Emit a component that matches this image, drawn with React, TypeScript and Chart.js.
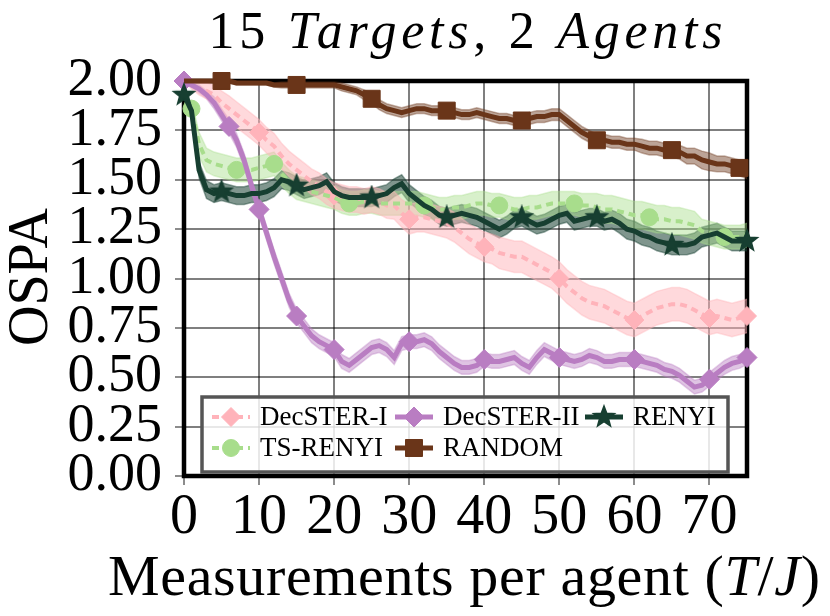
import React, { useEffect, useRef } from 'react';
import { Chart, registerables } from 'chart.js';

Chart.register(...registerables);

const FONT = '"Liberation Serif", "DejaVu Serif", serif';

// x positions (measurements per agent)
const STEPS = Array.from({ length: 76 }, (_, i) => i);
const X_TICKS = [0, 10, 20, 30, 40, 50, 60, 70];
const Y_TICK_STEP = 0.25;

const DEC1_MEAN = [
  2.00, 1.98, 1.96, 1.95, 1.93, 1.89, 1.86, 1.83, 1.80, 1.77,
  1.74, 1.70, 1.67, 1.62, 1.58, 1.55, 1.52, 1.49, 1.47, 1.44,
  1.42, 1.41, 1.40, 1.40, 1.39, 1.40, 1.39, 1.37, 1.37, 1.33,
  1.30, 1.31, 1.31, 1.30, 1.29, 1.28, 1.26, 1.23, 1.20, 1.18,
  1.16, 1.15, 1.13, 1.12, 1.11, 1.11, 1.09, 1.07, 1.05, 1.03,
  1.00, 0.96, 0.93, 0.90, 0.88, 0.87, 0.86, 0.84, 0.82, 0.80,
  0.79, 0.81, 0.83, 0.85, 0.86, 0.87, 0.87, 0.86, 0.84, 0.82,
  0.80, 0.81, 0.80, 0.79, 0.80, 0.81,
];
const DEC1_SPREAD = [
  0.00, 0.02, 0.03, 0.04, 0.05, 0.06, 0.065, 0.065, 0.065, 0.065,
  0.065, 0.065, 0.065, 0.065, 0.065, 0.065, 0.065, 0.065, 0.065, 0.065,
  0.065, 0.065, 0.065, 0.065, 0.065, 0.065, 0.065, 0.065, 0.07, 0.07,
  0.075, 0.075, 0.075, 0.075, 0.075, 0.075, 0.075, 0.075, 0.075, 0.075,
  0.075, 0.075, 0.08, 0.08, 0.08, 0.08, 0.08, 0.08, 0.08, 0.08,
  0.085, 0.085, 0.085, 0.085, 0.085, 0.085, 0.085, 0.085, 0.085, 0.085,
  0.085, 0.085, 0.085, 0.085, 0.085, 0.085, 0.085, 0.085, 0.085, 0.085,
  0.085, 0.085, 0.085, 0.085, 0.085, 0.085,
];
const DEC1_MARKERS = [0, 10, 20, 30, 40, 50, 60, 70, 75];

const DEC2_MEAN = [
  2.00, 1.98, 1.96, 1.93, 1.89, 1.83, 1.77, 1.70, 1.60, 1.47,
  1.35, 1.23, 1.11, 1.00, 0.89, 0.81, 0.76, 0.71, 0.68, 0.66,
  0.64, 0.58, 0.56, 0.59, 0.62, 0.65, 0.66, 0.64, 0.60, 0.67,
  0.68, 0.68, 0.69, 0.67, 0.63, 0.60, 0.57, 0.55, 0.55, 0.56,
  0.59, 0.58, 0.58, 0.59, 0.60, 0.57, 0.55, 0.60, 0.64, 0.62,
  0.60, 0.59, 0.58, 0.59, 0.61, 0.60, 0.58, 0.58, 0.59, 0.59,
  0.59, 0.58, 0.57, 0.56, 0.54, 0.53, 0.51, 0.48, 0.45, 0.46,
  0.49, 0.52, 0.55, 0.57, 0.58, 0.60,
];
const DEC2_SPREAD = [
  0.00, 0.01, 0.02, 0.02, 0.03, 0.03, 0.035, 0.035, 0.035, 0.035,
  0.035, 0.035, 0.035, 0.035, 0.035, 0.035, 0.035, 0.035, 0.035, 0.035,
  0.035, 0.035, 0.035, 0.035, 0.035, 0.035, 0.035, 0.035, 0.035, 0.035,
  0.035, 0.035, 0.035, 0.035, 0.035, 0.035, 0.035, 0.035, 0.035, 0.035,
  0.035, 0.035, 0.035, 0.035, 0.035, 0.035, 0.035, 0.035, 0.035, 0.035,
  0.035, 0.035, 0.035, 0.035, 0.035, 0.035, 0.035, 0.035, 0.035, 0.035,
  0.035, 0.035, 0.035, 0.035, 0.035, 0.035, 0.035, 0.035, 0.035, 0.035,
  0.035, 0.035, 0.035, 0.035, 0.035, 0.035,
];
const DEC2_MARKERS = [0, 6, 10, 15, 20, 30, 40, 50, 60, 70, 75];

const TS_MEAN = [
  1.87, 1.86, 1.68, 1.60, 1.58, 1.57, 1.56, 1.55, 1.55, 1.55,
  1.56, 1.57, 1.58, 1.53, 1.49, 1.46, 1.45, 1.44, 1.43, 1.42,
  1.41, 1.39, 1.38, 1.38, 1.39, 1.39, 1.38, 1.38, 1.38, 1.38,
  1.38, 1.38, 1.37, 1.36, 1.35, 1.35, 1.36, 1.36, 1.37, 1.38,
  1.38, 1.37, 1.37, 1.36, 1.35, 1.35, 1.36, 1.36, 1.37, 1.38,
  1.38, 1.38, 1.38, 1.37, 1.37, 1.36, 1.35, 1.35, 1.34, 1.33,
  1.32, 1.32, 1.31, 1.30, 1.30, 1.29, 1.29, 1.28, 1.27, 1.24,
  1.23, 1.22, 1.21, 1.21, 1.21, 1.22,
];
const TS_SPREAD = [
  0.02, 0.04, 0.06, 0.06, 0.06, 0.06, 0.06, 0.06, 0.06, 0.06,
  0.06, 0.06, 0.06, 0.06, 0.06, 0.06, 0.06, 0.06, 0.06, 0.06,
  0.06, 0.06, 0.06, 0.06, 0.06, 0.06, 0.06, 0.06, 0.06, 0.06,
  0.06, 0.06, 0.06, 0.06, 0.06, 0.06, 0.06, 0.06, 0.06, 0.06,
  0.06, 0.06, 0.06, 0.06, 0.06, 0.06, 0.06, 0.06, 0.06, 0.06,
  0.06, 0.06, 0.06, 0.06, 0.06, 0.07, 0.07, 0.07, 0.07, 0.07,
  0.07, 0.07, 0.07, 0.07, 0.07, 0.07, 0.07, 0.07, 0.07, 0.06,
  0.06, 0.06, 0.06, 0.06, 0.06, 0.06,
];
const TS_MARKERS = [1, 7, 12, 22, 32, 42, 52, 62, 72];

const RENYI_MEAN = [
  1.93, 1.85, 1.55, 1.45, 1.43, 1.44, 1.43, 1.42, 1.42, 1.43,
  1.43, 1.44, 1.46, 1.50, 1.49, 1.47, 1.45, 1.46, 1.47, 1.49,
  1.44, 1.42, 1.41, 1.41, 1.41, 1.41, 1.42, 1.43, 1.46, 1.48,
  1.43, 1.40, 1.37, 1.35, 1.32, 1.31, 1.32, 1.33, 1.32, 1.31,
  1.29, 1.27, 1.25, 1.27, 1.30, 1.31, 1.29, 1.27, 1.28, 1.30,
  1.32, 1.33, 1.29, 1.30, 1.31, 1.31, 1.29, 1.30, 1.28, 1.25,
  1.24, 1.22, 1.21, 1.19, 1.18, 1.17, 1.17, 1.17, 1.18, 1.21,
  1.22, 1.23, 1.21, 1.19, 1.19, 1.19,
];
const RENYI_SPREAD = [
  0.01, 0.03, 0.04, 0.045, 0.045, 0.045, 0.045, 0.045, 0.045, 0.045,
  0.045, 0.045, 0.045, 0.045, 0.045, 0.045, 0.045, 0.045, 0.045, 0.045,
  0.045, 0.045, 0.045, 0.045, 0.045, 0.045, 0.045, 0.045, 0.045, 0.045,
  0.045, 0.045, 0.045, 0.045, 0.045, 0.045, 0.045, 0.045, 0.045, 0.045,
  0.045, 0.045, 0.045, 0.045, 0.045, 0.045, 0.045, 0.045, 0.045, 0.045,
  0.045, 0.045, 0.045, 0.045, 0.045, 0.045, 0.045, 0.045, 0.05, 0.05,
  0.05, 0.05, 0.05, 0.05, 0.05, 0.05, 0.05, 0.05, 0.05, 0.05,
  0.05, 0.05, 0.05, 0.05, 0.05, 0.05,
];
const RENYI_MARKERS = [0, 5, 15, 25, 35, 45, 55, 65, 75];

const RANDOM_MEAN = [
  2.00, 2.00, 2.00, 2.00, 2.00, 2.00, 2.00, 1.99, 1.99, 1.99,
  1.99, 1.99, 1.98, 1.98, 1.98, 1.98, 1.98, 1.98, 1.98, 1.98,
  1.98, 1.97, 1.96, 1.95, 1.93, 1.91, 1.88, 1.86, 1.85, 1.84,
  1.85, 1.86, 1.86, 1.85, 1.85, 1.85, 1.84, 1.83, 1.83, 1.84,
  1.83, 1.82, 1.81, 1.81, 1.80, 1.80, 1.81, 1.82, 1.82, 1.83,
  1.83, 1.80, 1.77, 1.74, 1.72, 1.70, 1.70, 1.69, 1.69, 1.68,
  1.68, 1.67, 1.66, 1.66, 1.65, 1.65, 1.64, 1.62, 1.62, 1.60,
  1.59, 1.58, 1.58, 1.57, 1.56, 1.55,
];
const RANDOM_SPREAD = [
  0.00, 0.01, 0.01, 0.01, 0.01, 0.01, 0.01, 0.01, 0.01, 0.01,
  0.01, 0.01, 0.01, 0.015, 0.015, 0.015, 0.015, 0.015, 0.015, 0.015,
  0.015, 0.02, 0.02, 0.02, 0.025, 0.025, 0.025, 0.025, 0.025, 0.025,
  0.025, 0.025, 0.025, 0.025, 0.025, 0.025, 0.025, 0.025, 0.025, 0.025,
  0.025, 0.025, 0.025, 0.025, 0.025, 0.03, 0.03, 0.03, 0.03, 0.03,
  0.03, 0.03, 0.03, 0.03, 0.03, 0.03, 0.03, 0.03, 0.03, 0.03,
  0.03, 0.035, 0.035, 0.035, 0.035, 0.035, 0.035, 0.04, 0.04, 0.045,
  0.045, 0.04, 0.04, 0.04, 0.04, 0.045,
];
const RANDOM_MARKERS = [5, 15, 25, 35, 45, 55, 65, 74];

type Series = {
  label: string;
  mean: number[];
  spread: number[];
  markers: number[];
  rgb: [number, number, number];
  bandAlpha: number;
  dash: number[];
  style: string;
  radius: number;
  width: number;
  order: number;
};

// plotting order (matplotlib order)
const SERIES: Series[] = [
  { label: 'DecSTER-I', mean: DEC1_MEAN, spread: DEC1_SPREAD, markers: DEC1_MARKERS, rgb: [255, 179, 186], bandAlpha: 0.5, dash: [7, 5], style: 'rectRot', radius: 9.5, width: 4, order: 5 },
  { label: 'TS-RENYI', mean: TS_MEAN, spread: TS_SPREAD, markers: TS_MARKERS, rgb: [168, 221, 140], bandAlpha: 0.45, dash: [7, 5], style: 'circle', radius: 8.5, width: 4, order: 4 },
  { label: 'DecSTER-II', mean: DEC2_MEAN, spread: DEC2_SPREAD, markers: DEC2_MARKERS, rgb: [185, 125, 194], bandAlpha: 0.45, dash: [], style: 'rectRot', radius: 10, width: 5, order: 3 },
  { label: 'RANDOM', mean: RANDOM_MEAN, spread: RANDOM_SPREAD, markers: RANDOM_MARKERS, rgb: [106, 53, 25], bandAlpha: 0.45, dash: [], style: 'rect', radius: 12, width: 5, order: 2 },
  { label: 'RENYI', mean: RENYI_MEAN, spread: RENYI_SPREAD, markers: RENYI_MARKERS, rgb: [23, 63, 49], bandAlpha: 0.55, dash: [], style: 'star', radius: 11, width: 5, order: 1 },
];

// legend layout: [label, column, row]
const LEGEND_ITEMS: [string, number, number][] = [
  ['DecSTER-I', 0, 0],
  ['DecSTER-II', 1, 0],
  ['RENYI', 2, 0],
  ['TS-RENYI', 0, 1],
  ['RANDOM', 1, 1],
];

const rgba = (c: number[], a: number) => `rgba(${c[0]},${c[1]},${c[2]},${a})`;

function makeStar(rgb: number[], r: number): HTMLCanvasElement {
  const s = Math.ceil(r * 2 + 4);
  const c = document.createElement('canvas');
  c.width = s;
  c.height = s;
  const g = c.getContext('2d')!;
  g.translate(s / 2, s / 2);
  g.beginPath();
  for (let i = 0; i < 10; i++) {
    const rad = i % 2 === 0 ? r : r * 0.42;
    const a = -Math.PI / 2 + (i * Math.PI) / 5;
    g.lineTo(rad * Math.cos(a), rad * Math.sin(a));
  }
  g.closePath();
  g.fillStyle = rgba(rgb, 1);
  g.fill();
  g.lineWidth = 1.5;
  g.strokeStyle = rgba(rgb, 1);
  g.stroke();
  return c;
}

function drawLegendMarker(ctx: CanvasRenderingContext2D, style: any, r: number, x: number, y: number) {
  if (typeof style !== 'string') {
    ctx.drawImage(style, x - style.width / 2, y - style.height / 2);
    return;
  }
  ctx.beginPath();
  if (style === 'circle') {
    ctx.arc(x, y, r, 0, Math.PI * 2);
  } else if (style === 'rectRot') {
    ctx.moveTo(x - r, y);
    ctx.lineTo(x, y - r);
    ctx.lineTo(x + r, y);
    ctx.lineTo(x, y + r);
    ctx.closePath();
  } else {
    const h = r * Math.SQRT1_2;
    ctx.rect(x - h, y - h, 2 * h, 2 * h);
  }
  ctx.fill();
  ctx.stroke();
}

function drawMixed(
  ctx: CanvasRenderingContext2D,
  segs: { t: string; it: boolean }[],
  cx: number,
  baseline: number,
  size: number,
  targetW: number,
) {
  const fontOf = (it: boolean) => `${it ? 'italic ' : ''}${size}px ${FONT}`;
  const anyCtx = ctx as any;
  anyCtx.letterSpacing = '0px';
  let natural = 0;
  let nChars = 0;
  for (const s of segs) {
    ctx.font = fontOf(s.it);
    natural += ctx.measureText(s.t).width;
    nChars += s.t.length;
  }
  const gap = Math.max(0, (targetW - natural) / Math.max(1, nChars - 1));
  let x = cx - (natural + gap * (nChars - 1)) / 2;
  ctx.textAlign = 'left';
  ctx.textBaseline = 'alphabetic';
  ctx.fillStyle = '#000';
  for (const s of segs) {
    ctx.font = fontOf(s.it);
    anyCtx.letterSpacing = `${gap}px`;
    ctx.fillText(s.t, x, baseline);
    anyCtx.letterSpacing = '0px';
    x += ctx.measureText(s.t).width + gap * s.t.length;
  }
  anyCtx.letterSpacing = '0px';
}

export default function App() {
  const ref = useRef<HTMLCanvasElement>(null);

  useEffect(() => {
    const canvas = ref.current;
    if (!canvas) return;
    const styles: Record<string, any> = {};
    SERIES.forEach((s) => {
      styles[s.label] = s.style === 'star' ? makeStar(s.rgb, s.radius) : s.style;
    });

    const datasets: any[] = [];
    SERIES.forEach((s, k) => {
      const upper = STEPS.map((x, i) => ({ x, y: s.mean[i] + s.spread[i] }));
      const lower = STEPS.map((x, i) => ({ x, y: s.mean[i] - s.spread[i] }));
      const bandCommon = {
        pointRadius: 0,
        borderWidth: 1.5,
        borderColor: rgba(s.rgb, s.bandAlpha * 0.8),
        backgroundColor: rgba(s.rgb, s.bandAlpha),
        order: 20 + k,
      };
      datasets.push({ label: s.label + ' upper', data: upper, fill: false, ...bandCommon });
      datasets.push({ label: s.label + ' lower', data: lower, fill: '-1', ...bandCommon });
    });
    SERIES.forEach((s) => {
      datasets.push({
        label: s.label,
        data: STEPS.map((x, i) => ({ x, y: s.mean[i] })),
        borderColor: rgba(s.rgb, 1),
        backgroundColor: rgba(s.rgb, 1),
        borderWidth: s.width,
        borderDash: s.dash,
        fill: false,
        clip: false,
        order: s.order,
        pointStyle: styles[s.label],
        pointRadius: (c: any) => (s.markers.includes(c.dataIndex) ? s.radius : 0),
        pointBorderWidth: 1,
        pointBorderColor: rgba(s.rgb, 1),
        pointBackgroundColor: rgba(s.rgb, 1),
      });
    });

    const decor = {
      id: 'decor',
      beforeDatasetsDraw(chart: any) {
        const { ctx, chartArea: a } = chart;
        ctx.save();
        ctx.strokeStyle = '#000';
        ctx.lineWidth = 4.5;
        ctx.strokeRect(a.left, a.top, a.right - a.left, a.bottom - a.top);
        ctx.restore();
      },
      afterDraw(chart: any) {
        const { ctx, chartArea: a } = chart;
        ctx.save();
        const cx = (a.left + a.right) / 2;
        // title
        drawMixed(
          ctx,
          [
            { t: '15 ', it: false },
            { t: 'Targets', it: true },
            { t: ', 2 ', it: false },
            { t: 'Agents', it: true },
          ],
          cx,
          48,
          52,
          514,
        );
        // x axis title
        drawMixed(
          ctx,
          [
            { t: 'Measurements per agent (', it: false },
            { t: 'T', it: true },
            { t: '/', it: false },
            { t: 'J', it: true },
            { t: ')', it: false },
          ],
          464,
          595,
          58,
          712,
        );
        // y axis title
        ctx.save();
        ctx.translate(47, 277);
        ctx.rotate(-Math.PI / 2);
        ctx.font = `56px ${FONT}`;
        ctx.textAlign = 'center';
        ctx.textBaseline = 'alphabetic';
        ctx.fillStyle = '#000';
        ctx.fillText('OSPA', 0, 0);
        ctx.restore();

        // legend
        const bx = a.left + 18;
        const by = a.top + 316;
        const bw = 526;
        const bh = 75;
        ctx.fillStyle = 'rgba(255,255,255,0.82)';
        ctx.fillRect(bx, by, bw, bh);
        ctx.strokeStyle = '#555';
        ctx.lineWidth = 3.5;
        ctx.strokeRect(bx, by, bw, bh);
        const colX = [bx + 10, bx + 193, bx + 383];
        const rowY = [by + 20, by + 51];
        LEGEND_ITEMS.forEach(([label, col, row]) => {
          const s = SERIES.find((q) => q.label === label)!;
          const x0 = colX[col];
          const y0 = rowY[row];
          const len = 38;
          ctx.save();
          ctx.strokeStyle = rgba(s.rgb, 1);
          ctx.lineWidth = s.width;
          ctx.setLineDash(s.dash);
          ctx.beginPath();
          ctx.moveTo(x0, y0);
          ctx.lineTo(x0 + len, y0);
          ctx.stroke();
          ctx.setLineDash([]);
          ctx.fillStyle = rgba(s.rgb, 1);
          ctx.strokeStyle = rgba(s.rgb, 1);
          ctx.lineWidth = 1;
          drawLegendMarker(ctx, styles[label], s.radius, x0 + len / 2, y0);
          ctx.restore();
          ctx.font = `27px ${FONT}`;
          ctx.fillStyle = '#000';
          ctx.textAlign = 'left';
          ctx.textBaseline = 'middle';
          ctx.fillText(label, x0 + len + 10, y0 + 1);
        });
        ctx.restore();
      },
    };

    const chart = new Chart(canvas, {
      type: 'line',
      data: { datasets },
      options: {
        animation: false,
        responsive: false,
        devicePixelRatio: 1,
        layout: { padding: { top: 81, right: 83, left: 0, bottom: 0 } },
        plugins: { legend: { display: false }, title: { display: false }, tooltip: { enabled: false } },
        elements: { line: { tension: 0 } },
        scales: {
          x: {
            type: 'linear',
            min: 0,
            max: 75,
            afterBuildTicks: (s: any) => {
              s.ticks = X_TICKS.map((v) => ({ value: v }));
            },
            afterFit: (s: any) => {
              s.height = 140;
            },
            ticks: {
              autoSkip: false,
              maxRotation: 0,
              padding: 0,
              color: '#000',
              font: { family: FONT, size: 56 },
            },
            grid: { color: 'rgba(0,0,0,0.5)', lineWidth: 2, tickLength: 9, tickColor: 'rgba(0,0,0,0.45)' },
            border: { display: false },
          },
          y: {
            min: 0,
            max: 2,
            afterFit: (s: any) => {
              s.width = 184;
            },
            ticks: {
              stepSize: Y_TICK_STEP,
              autoSkip: false,
              padding: 13,
              color: '#000',
              font: { family: FONT, size: 54 },
              callback: (v: any) => Number(v).toFixed(2),
            },
            grid: { color: 'rgba(0,0,0,0.5)', lineWidth: 2, tickLength: 9, tickColor: 'rgba(0,0,0,0.45)' },
            border: { display: false },
          },
        },
      },
      plugins: [decor],
    });
    return () => chart.destroy();
  }, []);

  return (
    <div style={{ position: 'fixed', left: 0, top: 0, width: 830, height: 616, background: '#fff' }}>
      <canvas ref={ref} width={830} height={616} style={{ display: 'block' }} />
    </div>
  );
}
